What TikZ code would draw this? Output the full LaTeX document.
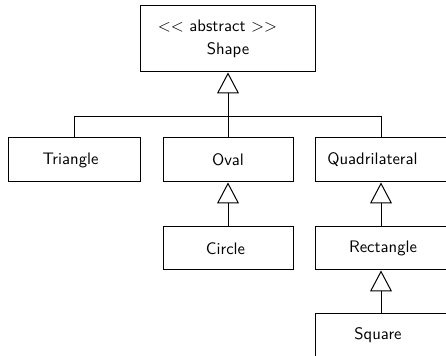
\documentclass[tikz,border=0pt]{standalone}
\usetikzlibrary{arrows.meta}
\renewcommand{\familydefault}{\sfdefault}
\begin{document}
\begin{tikzpicture}[x=0.6pt, y=-0.6pt,
  cls/.style={draw, line width=0.6pt, minimum width=79.2pt, minimum height=26.4pt,
              inner sep=0pt, font=\sffamily, align=center},
  link/.style={draw, line width=0.6pt},
  isa/.style={link, -{Triangle[open, length=12.6pt, width=13.2pt, line width=0.6pt]}}]
  \useasboundingbox (0,0) rectangle (446,356);
  \clip (0,0) rectangle (446,356);

  % abstract root class
  \node[cls, minimum width=105pt, minimum height=39.6pt] (shape) at (228,39)
    {$<<$ abstract $>>$\hspace*{12.6pt}\\[1.8pt]Shape};

  % first level
  \node[cls] (triangle) at (74,160)  {Triangle\hspace*{4.2pt}};
  \node[cls, minimum width=78pt] (oval) at (228,160) {Oval};
  \node[cls] (quad) at (381,160) {Quadrilateral\hspace*{10.2pt}};

  % second level
  \node[cls, minimum width=78pt, minimum height=25.8pt] (circle) at (228,248.5) {Circle\hspace*{3pt}};
  \node[cls, minimum height=25.8pt] (rect) at (381,248.5) {\hspace*{2.4pt}Rectangle};

  % third level
  \node[cls] (square) at (381,335) {Square\hspace*{3.6pt}};

  % generalisation links
  \draw[link] (triangle.north) -- ++(0,-21) coordinate (busL) -| (quad.north);
  \draw[isa] (oval.north) -- (shape.south);
  \draw[isa] (circle.north) -- (oval.south);
  \draw[isa] (rect.north) -- (quad.south);
  \draw[isa] (square.north) -- (rect.south);
\end{tikzpicture}
\end{document}
